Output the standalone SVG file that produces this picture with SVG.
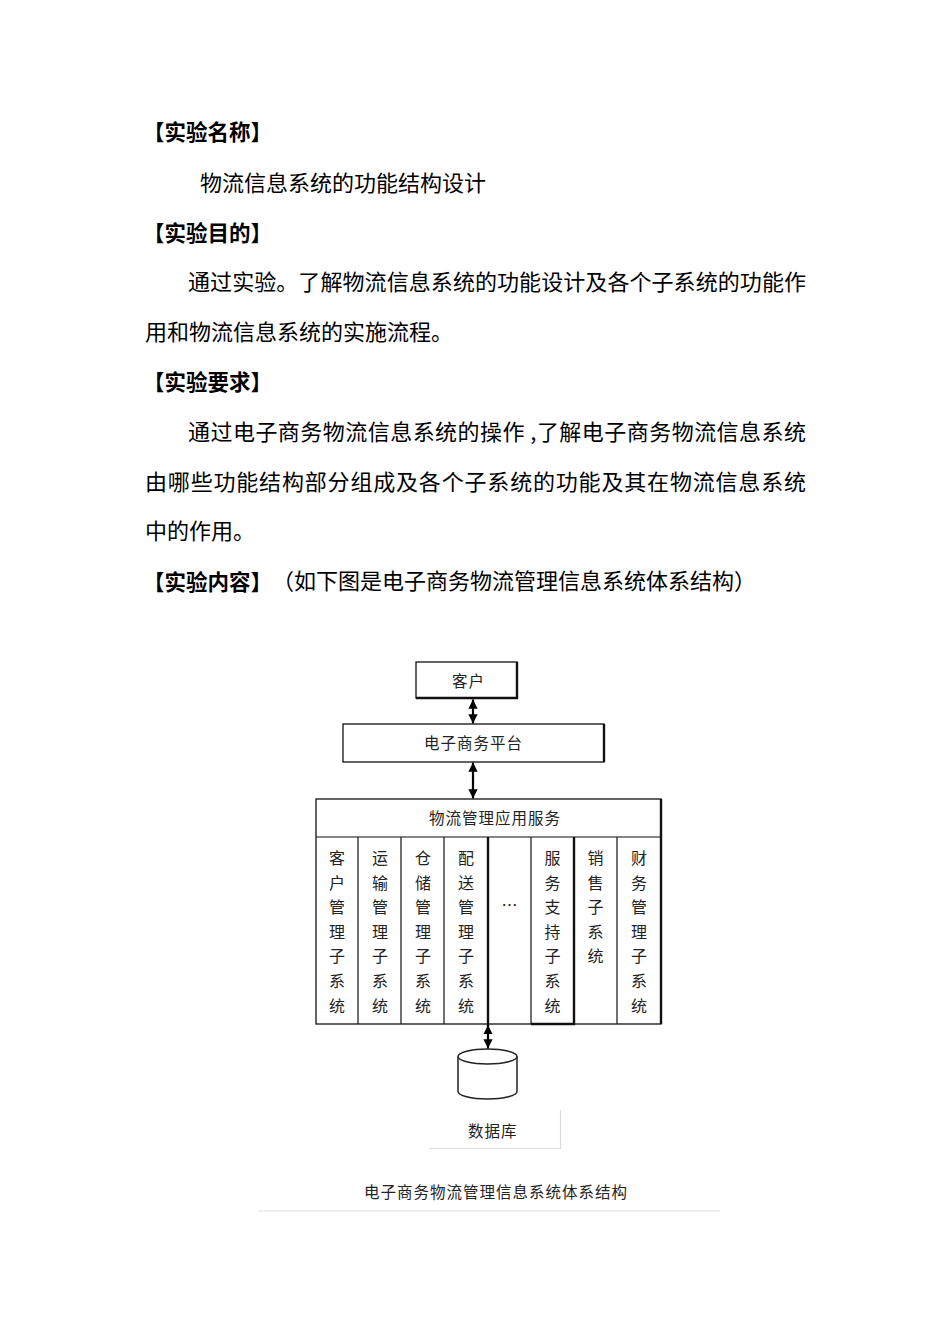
<svg xmlns="http://www.w3.org/2000/svg" width="950" height="1344" viewBox="0 0 950 1344">
<style>
.h{font-family:"Noto Sans CJK SC","Noto Sans",sans-serif;font-size:21.5px;font-weight:bold;fill:#000}
.b{font-family:"Noto Sans CJK SC","Noto Sans",sans-serif;font-size:22px;fill:#000}
.d{font-family:"Noto Sans CJK SC","Noto Sans",sans-serif;font-size:15.5px;fill:#222;letter-spacing:1px}
.v{font-family:"Noto Sans CJK SC","Noto Sans",sans-serif;font-size:16px;fill:#222;text-anchor:middle}
.box{fill:#fff;stroke:#111;stroke-width:1.3}
.thick{stroke:#111;stroke-width:2.4;fill:none}
.thin{stroke:#111;stroke-width:1.2;fill:none}
.conn{stroke:#000;stroke-width:2.2;fill:none;marker-start:url(#ah);marker-end:url(#ah)}
.gray{stroke:#ddd;stroke-width:1.2;fill:none}
</style>
<defs>
<marker id="ah" viewBox="0 0 10 10" refX="10" refY="5" markerWidth="4.2" markerHeight="4.2" orient="auto-start-reverse" markerUnits="strokeWidth">
<path d="M0,0 L10,5 L0,10 Z" fill="#000"/>
</marker>
</defs>
<rect width="950" height="1344" fill="#fff"/>

<g id="text-body">
<text class="h" x="143" y="140">【实验名称】</text>
<text class="b" x="200" y="191">物流信息系统的功能结构设计</text>
<text class="h" x="143" y="241">【实验目的】</text>
<text class="b" x="188" y="290" textLength="618" lengthAdjust="spacing">通过实验。了解物流信息系统的功能设计及各个子系统的功能作</text>
<text class="b" x="145" y="340">用和物流信息系统的实施流程。</text>
<text class="h" x="143" y="390">【实验要求】</text>
<text class="b" x="188" y="440" textLength="618" lengthAdjust="spacing">通过电子商务物流信息系统的操作 ,了解电子商务物流信息系统</text>
<text class="b" x="145" y="490" textLength="661" lengthAdjust="spacing">由哪些功能结构部分组成及各个子系统的功能及其在物流信息系统</text>
<text class="b" x="145" y="539">中的作用。</text>
<text class="h" x="143" y="590">【实验内容】</text>
<text class="b" x="272" y="589">（如下图是电子商务物流管理信息系统体系结构）</text>
</g>

<g id="node-customer">
<rect class="box" x="416" y="662" width="101" height="36"/>
<path class="thick" d="M517,662 V698 H416"/>
<text class="d" x="452" y="687">客户</text>
</g>

<g id="node-platform">
<rect class="box" x="343" y="724" width="261" height="38"/>
<path class="thick" d="M604,724 V762"/>
<text class="d" x="424" y="749">电子商务平台</text>
</g>

<g id="node-logistics">
<rect class="box" x="316" y="799" width="345" height="225"/>
<path class="thick" d="M661,799 V1024"/>
<line class="thin" x1="316" y1="837" x2="661" y2="837"/>
<text class="d" x="429" y="823.5">物流管理应用服务</text>
<line class="thin" x1="358" y1="837" x2="358" y2="1024"/>
<line class="thin" x1="401" y1="837" x2="401" y2="1024"/>
<line class="thin" x1="444" y1="837" x2="444" y2="1024"/>
<line class="thick" x1="488" y1="837" x2="488" y2="1026"/>
<line class="thin" x1="531" y1="837" x2="531" y2="1024"/>
<path class="thick" d="M574,837 V1024 H531"/>
<line class="thin" x1="617" y1="837" x2="617" y2="1024"/>
<text class="v" x="337"><tspan x="337" y="864">客</tspan><tspan x="337" y="888.6">户</tspan><tspan x="337" y="913.2">管</tspan><tspan x="337" y="937.8">理</tspan><tspan x="337" y="962.4">子</tspan><tspan x="337" y="987">系</tspan><tspan x="337" y="1011.6">统</tspan></text>
<text class="v" x="380"><tspan x="380" y="864">运</tspan><tspan x="380" y="888.6">输</tspan><tspan x="380" y="913.2">管</tspan><tspan x="380" y="937.8">理</tspan><tspan x="380" y="962.4">子</tspan><tspan x="380" y="987">系</tspan><tspan x="380" y="1011.6">统</tspan></text>
<text class="v" x="423"><tspan x="423" y="864">仓</tspan><tspan x="423" y="888.6">储</tspan><tspan x="423" y="913.2">管</tspan><tspan x="423" y="937.8">理</tspan><tspan x="423" y="962.4">子</tspan><tspan x="423" y="987">系</tspan><tspan x="423" y="1011.6">统</tspan></text>
<text class="v" x="466"><tspan x="466" y="864">配</tspan><tspan x="466" y="888.6">送</tspan><tspan x="466" y="913.2">管</tspan><tspan x="466" y="937.8">理</tspan><tspan x="466" y="962.4">子</tspan><tspan x="466" y="987">系</tspan><tspan x="466" y="1011.6">统</tspan></text>
<text class="v" x="509.5" y="911">…</text>
<text class="v" x="552.5"><tspan x="552.5" y="864">服</tspan><tspan x="552.5" y="888.6">务</tspan><tspan x="552.5" y="913.2">支</tspan><tspan x="552.5" y="937.8">持</tspan><tspan x="552.5" y="962.4">子</tspan><tspan x="552.5" y="987">系</tspan><tspan x="552.5" y="1011.6">统</tspan></text>
<text class="v" x="595.5"><tspan x="595.5" y="864">销</tspan><tspan x="595.5" y="888.6">售</tspan><tspan x="595.5" y="913.2">子</tspan><tspan x="595.5" y="937.8">系</tspan><tspan x="595.5" y="962.4">统</tspan></text>
<text class="v" x="639"><tspan x="639" y="864">财</tspan><tspan x="639" y="888.6">务</tspan><tspan x="639" y="913.2">管</tspan><tspan x="639" y="937.8">理</tspan><tspan x="639" y="962.4">子</tspan><tspan x="639" y="987">系</tspan><tspan x="639" y="1011.6">统</tspan></text>
</g>

<g id="node-database">
<path d="M458,1056.5 V1091.5 A29.5,7.5 0 0 0 517,1091.5 V1056.5" fill="#fff" stroke="#222" stroke-width="1.5"/>
<ellipse cx="487.5" cy="1056.5" rx="29.5" ry="7.5" fill="#fff" stroke="#222" stroke-width="1.5"/>
<path class="gray" d="M429,1148.5 H560.5 V1110"/>
<text class="d" x="468" y="1137">数据库</text>
</g>

<g id="connectors">
<path class="conn" d="M473,699.5 V723.5"/>
<path class="conn" d="M473,762.5 V798.5"/>
<path class="conn" d="M488,1025 V1048.5"/>
</g>

<g id="caption">
<text class="d" x="364" y="1198">电子商务物流管理信息系统体系结构</text>
<line class="gray" x1="258" y1="1211" x2="720" y2="1211"/>
</g>
</svg>
